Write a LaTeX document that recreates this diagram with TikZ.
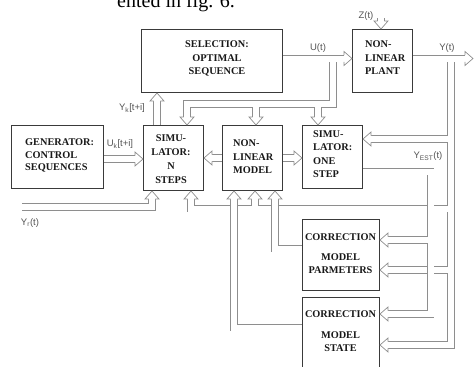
\documentclass[tikz,border=0pt]{standalone}
\usepackage{fontspec}
\setmainfont{Liberation Serif}
\newfontfamily\lblfont{Liberation Sans}
\usetikzlibrary{calc}

\definecolor{pipegray}{HTML}{8E8E8E}
\definecolor{boxgray}{HTML}{3A3A3A}
\definecolor{lblgray}{HTML}{555555}

% hollow arrow head: length, half width, half distance of the two pipe edges
\def\hlen{8pt}
\def\hwid{7pt}
\def\hsh{3.35pt}

\tikzset{
  blk/.style={draw=boxgray, line width=1pt, fill=white, inner sep=0pt, anchor=north west},
  btxt/.style={font=\bfseries\fontsize{10.3}{13.5}\selectfont, inner sep=0pt, text=black!90},
  pipeline/.style={draw=pipegray, line width=0.7pt},
  pipe/.style={pipeline, double=white, double distance=6pt},
  lbl/.style={font=\lblfont\fontsize{9.5}{10}\selectfont, text=lblgray, inner sep=0pt},
}

% #1 name, #2 a point on the last segment, #3 the tip
\newcommand\mkhead[3]{%
  \coordinate (#1-t) at (#3);
  \coordinate (#1-b) at ($(#3)!\hlen!(#2)$);
}
\newcommand\drawhead[1]{%
  \fill[white] ($(#1-b)!\hwid!90:(#1-t)$) -- (#1-t) -- ($(#1-b)!\hwid!-90:(#1-t)$) -- cycle;
  \draw[pipeline] ($(#1-b)!\hsh!90:(#1-t)$) -- ($(#1-b)!\hwid!90:(#1-t)$) -- (#1-t)
     -- ($(#1-b)!\hwid!-90:(#1-t)$) -- ($(#1-b)!\hsh!-90:(#1-t)$);
}

\begin{document}
\begin{tikzpicture}[x=1pt,y=-1pt]
\useasboundingbox (0,0) rectangle (475,367);
\clip (0,0) rectangle (475,367);

\node[anchor=base west, font=\fontsize{20}{20}\selectfont, inner sep=0pt] (capline) at (117,7) {ented in fig. 6.};

% blocks
\node[blk, minimum width=141pt, minimum height=63pt] (sel)   at (141,29)  {};
\node[blk, minimum width=60pt,  minimum height=63pt] (plant) at (352,29)  {};
\node[blk, minimum width=92pt,  minimum height=63pt] (gen)   at (11,125)  {};
\node[blk, minimum width=60pt,  minimum height=65pt] (simN)  at (143,125) {};
\node[blk, minimum width=60pt,  minimum height=65pt] (nlm)   at (222,125) {};
\node[blk, minimum width=60pt,  minimum height=63pt] (sim1)  at (302,125) {};
\node[blk, minimum width=77pt,  minimum height=71pt] (cpar)  at (302,219) {};
\node[blk, minimum width=77pt,  minimum height=80pt] (cst)   at (302,297) {};

% block texts
\node[btxt, align=center] (tsel) at (217,58.5) {SELECTION:\\OPTIMAL\\SEQUENCE};
\node[btxt, align=left, anchor=west] (tplant) at (365,58) {NON-\\LINEAR\\PLANT};
\node[btxt, align=left, anchor=west, font=\bfseries\fontsize{10.3}{12.5}\selectfont] (tgen) at (25,155.5) {GENERATOR:\\CONTROL\\SEQUENCES};
\node[btxt, align=center, font=\bfseries\fontsize{10.3}{14}\selectfont] (tsimN) at (171,159.5) {SIMU-\\LATOR:\\N\\STEPS};
\node[btxt, align=left, anchor=west] (tnlm) at (233,157) {NON-\\LINEAR\\MODEL};
\node[btxt, align=left, anchor=west] (tsim1) at (313,154) {SIMU-\\LATOR:\\ONE\\STEP};
\node[btxt, align=center] (tcp1) at (340.5,237) {CORRECTION};
\node[btxt, align=center] (tcp2) at (340.5,263.5) {MODEL\\PARMETERS};
\node[btxt, align=center] (tcs1) at (340.5,314) {CORRECTION};
\node[btxt, align=center] (tcs2) at (340.5,341.5) {MODEL\\STATE};

% arrow heads: geometry
\mkhead{hGen}{103,159}{simN.west |- 0,159}
\mkhead{hSel}{157,125}{sel.south -| 157,0}
\mkhead{hPl}{282,58.5}{plant.west |- 0,58.5}
\mkhead{hSn}{187,104}{simN.north -| 187,0}
\mkhead{hNl}{256,104}{nlm.north -| 256,0}
\mkhead{hSo}{318,104}{sim1.north -| 318,0}
\mkhead{hZ}{381,18}{plant.north -| 381,0}
\mkhead{hY}{412,58.5}{473,58.5}
\mkhead{hCsB}{451,345}{cst.east |- 0,345}
\mkhead{hSoR}{451,139}{sim1.east |- 0,139}
\mkhead{hSnB}{191,208.5}{simN.south -| 191,0}
\mkhead{hNlB}{255,208.5}{nlm.south -| 255,0}
\mkhead{hCpB}{451,270}{cpar.east |- 0,270}
\mkhead{hCsA}{430.5,314}{cst.east |- 0,314}
\mkhead{hCpA}{430.5,240}{cpar.east |- 0,240}
\mkhead{hSnR}{152,207}{simN.south -| 152,0}
\mkhead{hNlC}{275,248.5}{nlm.south -| 275,0}
\mkhead{hNlA}{234,327.5}{nlm.south -| 234,0}
\mkhead{hSnM}{222,158}{simN.east |- 0,158}
\mkhead{hSoL}{282,158}{sim1.west |- 0,158}

% pipes
\draw[pipe] (gen.east |- 0,159) -- (hGen-b);
\draw[pipe] (simN.north -| 157,0) -- (hSel-b);
\draw[pipe] (sel.east |- 0,58.5) -- (hPl-b)
      (333,58.5) -- (333,104) -- (187,104) -- (hSn-b)
      (256,104) -- (hNl-b)
      (318,104) -- (hSo-b);
\draw[pipe] (381,18) -- (hZ-b);
\draw[pipe] (plant.east |- 0,58.5) -- (hY-b)
      (451,58.5) -- (451,345) -- (hCsB-b)
      (451,139) -- (hSoR-b)
      (451,208.5) -- (191,208.5) -- (hSnB-b)
      (255,208.5) -- (hNlB-b)
      (451,270) -- (hCpB-b);
\draw[pipe] (sim1.east |- 0,171.5) -- (430.5,171.5) -- (430.5,314) -- (hCsA-b)
      (430.5,240) -- (hCpA-b);
\draw[pipe] (22,207) -- (152,207) -- (hSnR-b);
\draw[pipe] (cpar.west |- 0,248.5) -- (275,248.5) -- (hNlC-b);
\draw[pipe] (cst.west |- 0,327.5) -- (234,327.5) -- (hNlA-b);
\draw[pipe] (nlm.west |- 0,158) -- (hSnM-b);
\draw[pipe] (nlm.east |- 0,158) -- (hSoL-b);

% arrow heads
\foreach \h in {hGen,hSel,hPl,hSn,hNl,hSo,hZ,hY,hCsB,hSoR,hSnB,hNlB,hCpB,hCsA,hCpA,hSnR,hNlC,hNlA,hSnM,hSoL}
  {\drawhead{\h}}

% signal labels
\node[lbl] (lUk) at (120,144) {U\textsubscript{k}[t+i]};
\node[lbl] (lYk) at (132,108) {Y\textsubscript{k}[t+i]};
\node[lbl] (lU)  at (318,48)  {U(t)};
\node[lbl] (lY)  at (447,48)  {Y(t)};
\node[lbl] (lZ)  at (366,16)  {Z(t)};
\node[lbl] (lYr) at (30,223)  {Y\textsubscript{r}(t)};
\node[lbl] (lYe) at (428,156) {Y\textsubscript{EST}(t)};
\end{tikzpicture}
\end{document}
